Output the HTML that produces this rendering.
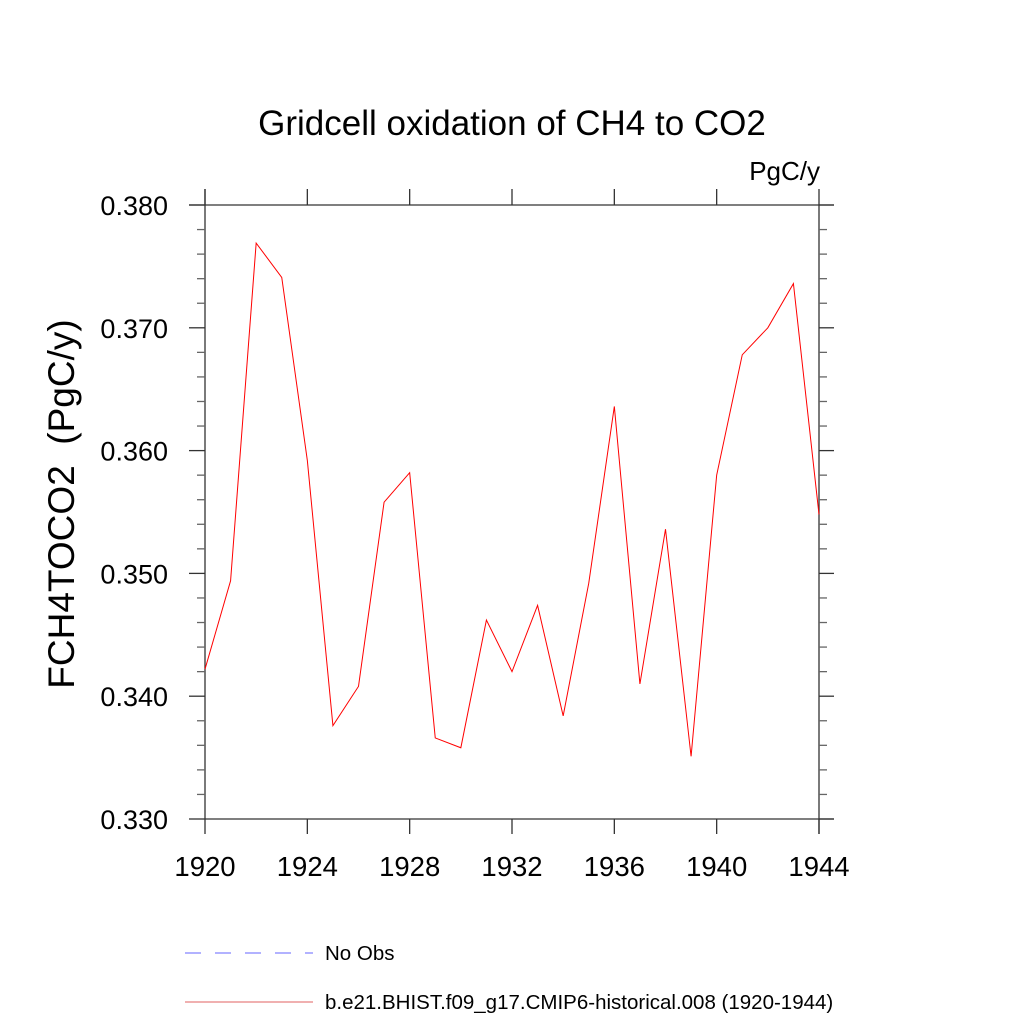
<!DOCTYPE html>
<html><head><meta charset="utf-8"><style>
html,body{margin:0;padding:0;background:#fff;}
svg{display:block;font-family:"Liberation Sans",Arial,sans-serif;}
</style></head><body>
<svg id="chart" width="1024" height="1024" viewBox="0 0 1024 1024">
<text x="512" y="135" font-size="35" text-anchor="middle">Gridcell oxidation of CH4 to CO2</text>
<text x="820" y="180" font-size="26" text-anchor="end">PgC/y</text>
<text transform="translate(74,504) rotate(-90)" font-size="37" text-anchor="middle" style="white-space:pre">FCH4TOCO2  (PgC/y)</text>
<g id="axes"></g>
<g id="series"></g>
<g>
<line x1="185" y1="953" x2="313" y2="953" stroke="#6666ff" stroke-width="1" stroke-dasharray="16,14"/>
<text x="325" y="960" font-size="20.5">No Obs</text>
<line x1="185" y1="1002" x2="313" y2="1002" stroke="#e06060" stroke-width="1"/>
<text x="325" y="1009" font-size="20.5">b.e21.BHIST.f09_g17.CMIP6-historical.008 (1920-1944)</text>
</g>
</svg>
<script>
const years=[1920,1921,1922,1923,1924,1925,1926,1927,1928,1929,1930,1931,1932,1933,1934,1935,1936,1937,1938,1939,1940,1941,1942,1943,1944];
const values=[0.3422,0.3494,0.3769,0.3741,0.3592,0.3376,0.3408,0.3558,0.3582,0.3366,0.3358,0.3462,0.3420,0.3474,0.3384,0.3492,0.3636,0.3410,0.3536,0.3351,0.3580,0.3678,0.3700,0.3736,0.3548];
const xTicks=[1920,1924,1928,1932,1936,1940,1944];
const yTicks=[0.330,0.340,0.350,0.360,0.370,0.380];
const yTickLabels=["0.330","0.340","0.350","0.360","0.370","0.380"];
const L=205,R=819,T=205,B=819;
const xs=v=>L+(v-1920)/(1944-1920)*(R-L);
const ys=v=>B-(v-0.330)/(0.380-0.330)*(B-T);
const NS="http://www.w3.org/2000/svg";
const ax=document.getElementById('axes');
function ln(x1,y1,x2,y2,name,c){const e=document.createElementNS(NS,'line');
e.setAttribute('x1',x1);e.setAttribute('y1',y1);e.setAttribute('x2',x2);e.setAttribute('y2',y2);
e.setAttribute('stroke',c||'#333');e.setAttribute('stroke-width','1.3');


ax.appendChild(e);return e;}
ln(L,189,L,B,'left-axis');ln(R,T,R,834,'right-axis');
ln(189,T,834,T,'top-axis');ln(L,B,834,B,'bottom-axis');
xTicks.forEach(t=>{const x=xs(t);ln(x,B,x,834,'x-tick');ln(x,189,x,T,'x-tick-top');
const tx=document.createElementNS(NS,'text');tx.setAttribute('x',x);tx.setAttribute('y',876);
tx.setAttribute('font-size','27.5');tx.setAttribute('text-anchor','middle');tx.textContent=t;


ax.appendChild(tx);});
yTicks.forEach((t,i)=>{const y=ys(t);ln(189,y,L,y,'y-tick');ln(R,y,834,y,'y-tick-right');
const tx=document.createElementNS(NS,'text');tx.setAttribute('x',168);tx.setAttribute('y',y+10);
tx.setAttribute('font-size','27');tx.setAttribute('text-anchor','end');tx.textContent=yTickLabels[i];


ax.appendChild(tx);
if(i<yTicks.length-1){for(let k=1;k<5;k++){const yy=ys(t+k*0.002);ln(197,yy,L,yy,'y-minor-tick','#666');ln(R,yy,827,yy,'y-minor-tick-right','#666');}}});
const p=document.createElementNS(NS,'polyline');
p.setAttribute('points',years.map((y,i)=>xs(y)+','+ys(values[i])).join(' '));
p.setAttribute('fill','none');p.setAttribute('stroke','#ff0000');p.setAttribute('stroke-width','1');


document.getElementById('series').appendChild(p);
</script>
</body></html>
